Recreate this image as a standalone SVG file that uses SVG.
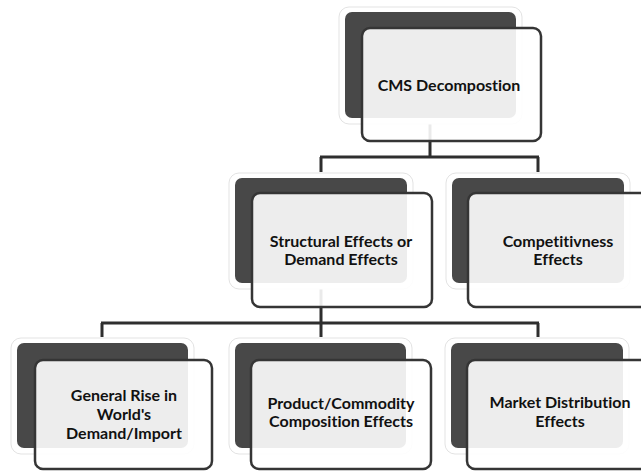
<svg xmlns="http://www.w3.org/2000/svg" width="641" height="471" viewBox="0 0 641 471">
<style>
.halo{fill:#ffffff;stroke:#e3e3e3;stroke-width:1}
.back{fill:#484848}
.front{fill:#ffffff;fill-opacity:0.9;stroke:#353535;stroke-width:2.5}
.lbl{font-family:Lato,"Open Sans","Liberation Sans",sans-serif;font-weight:bold;font-size:16px;fill:#111;text-anchor:middle;font-variant-ligatures:none}
.conn{fill:none;stroke:#2e2e2e;stroke-width:3;stroke-linecap:butt}
</style>
<rect width="641" height="471" fill="#ffffff"/>
<g id="connectors">
<path class="conn" d="M430 118 V157 M320 157 H539 M321 157 V172 M538 157 V172"/>
<path class="conn" d="M321 283 V323 M101 323 H539 M102 323 V337 M321 323 V337 M538 323 V337"/>
</g>
<g id="node-cms">
<rect class="halo" x="339" y="7" width="183" height="117" rx="10"/>
<rect class="back" x="345" y="12" width="171" height="106" rx="7"/>
<rect class="front" x="362" y="28" width="179" height="113" rx="8"/>
<text class="lbl" x="449" y="91">CMS Decompostion</text>
</g>
<g id="node-structural">
<rect class="halo" x="229" y="173" width="184" height="116" rx="10"/>
<rect class="back" x="235" y="178" width="172" height="105" rx="7"/>
<rect class="front" x="252" y="193" width="180" height="114" rx="8"/>
<text class="lbl" x="341" y="247">Structural Effects or</text>
<text class="lbl" x="341" y="265">Demand Effects</text>
</g>
<g id="node-competitiveness">
<rect class="halo" x="446" y="173" width="184" height="116" rx="10"/>
<rect class="back" x="452" y="178" width="172" height="105" rx="7"/>
<rect class="front" x="468" y="193" width="180" height="114" rx="8"/>
<text class="lbl" x="558" y="247">Competitivness</text>
<text class="lbl" x="558" y="265">Effects</text>
</g>
<g id="node-general">
<rect class="halo" x="11" y="338" width="183" height="116" rx="10"/>
<rect class="back" x="17" y="343" width="171" height="105" rx="7"/>
<rect class="front" x="35" y="360" width="177" height="109" rx="8"/>
<text class="lbl" x="124" y="401">General Rise in</text>
<text class="lbl" x="124" y="420">World's</text>
<text class="lbl" x="124" y="439">Demand/Import</text>
</g>
<g id="node-product">
<rect class="halo" x="229" y="338" width="183" height="116" rx="10"/>
<rect class="back" x="235" y="343" width="171" height="105" rx="7"/>
<rect class="front" x="251" y="360" width="180" height="109" rx="8"/>
<text class="lbl" x="341" y="409">Product/Commodity</text>
<text class="lbl" x="341" y="427">Composition Effects</text>
</g>
<g id="node-market">
<rect class="halo" x="445" y="338" width="184" height="116" rx="10"/>
<rect class="back" x="451" y="343" width="172" height="105" rx="7"/>
<rect class="front" x="467" y="360" width="182" height="109" rx="8"/>
<text class="lbl" x="560" y="408">Market Distribution</text>
<text class="lbl" x="560" y="427">Effects</text>
</g>
</svg>
